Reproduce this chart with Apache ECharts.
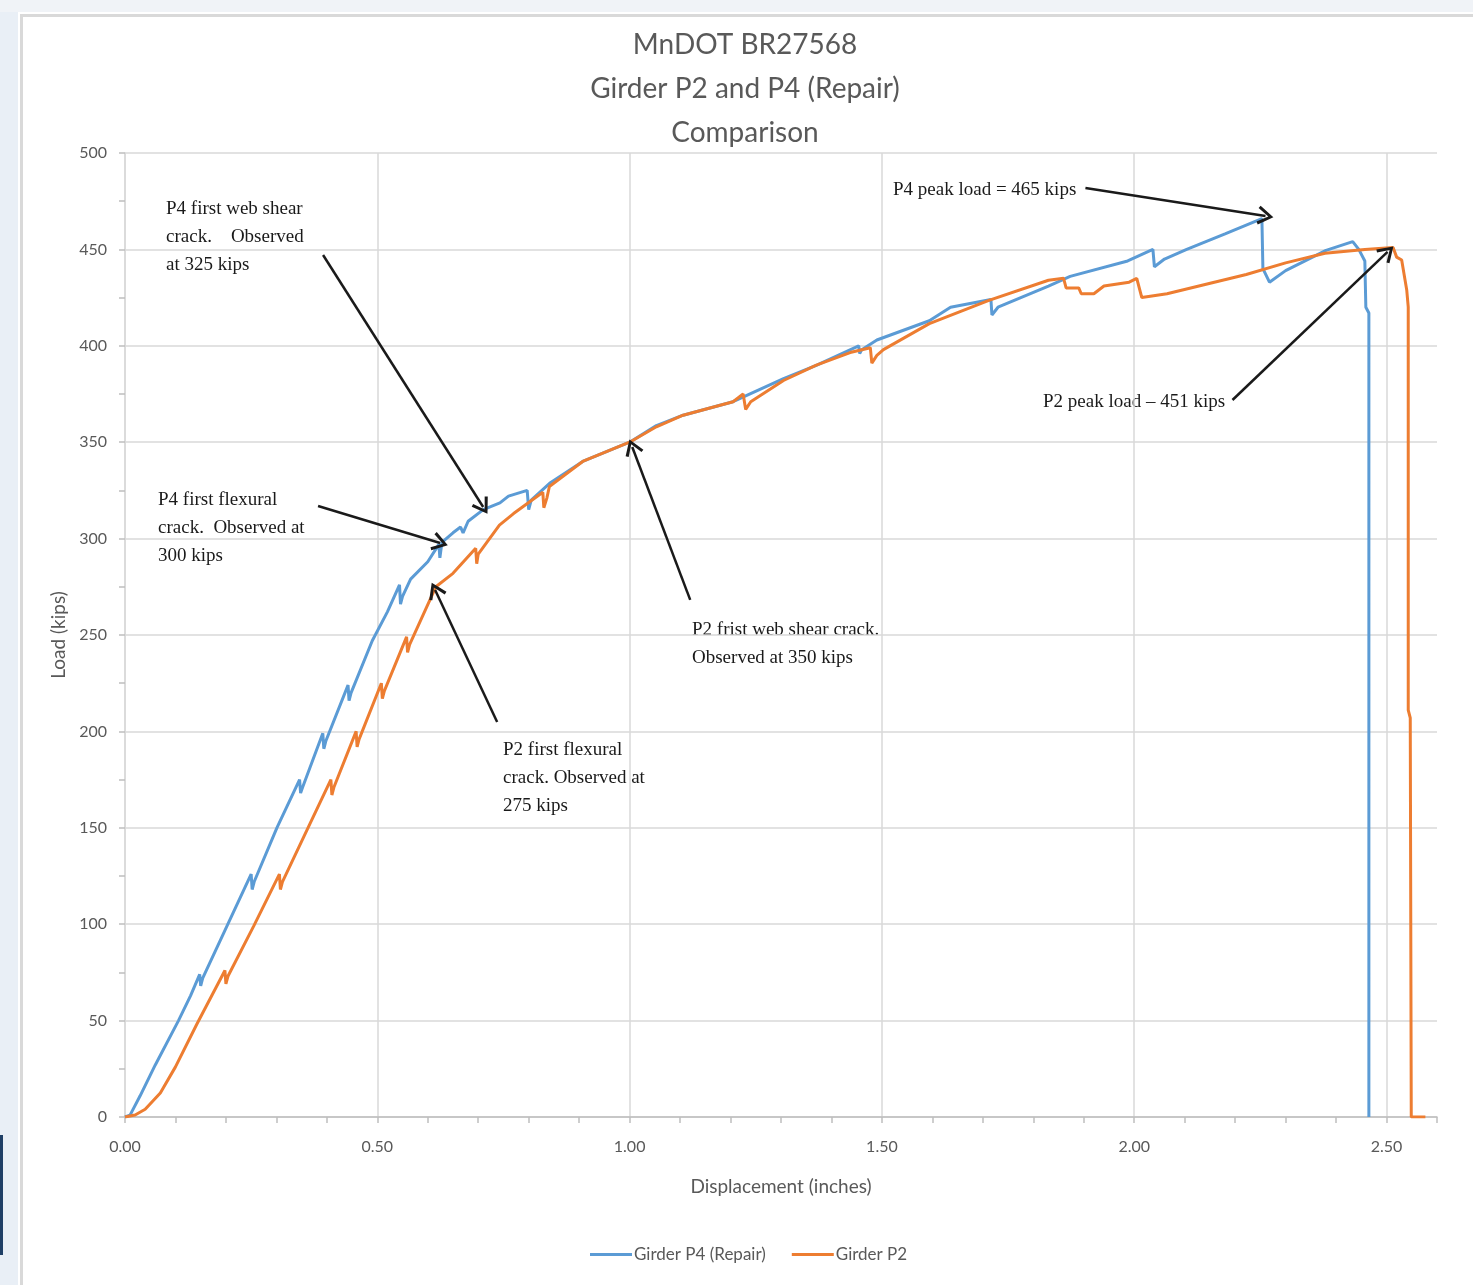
<!DOCTYPE html>
<html>
<head>
<meta charset="utf-8">
<title>MnDOT BR27568 Girder P2 and P4</title>
<script src="https://cdn.jsdelivr.net/npm/echarts@6/dist/echarts.min.js"></script>
<style>
	html, body { margin: 0; padding: 0; background: #fff; }
	#chart { width: 1473px; height: 1285px; }
</style>
</head>
<body>
<div id="chart"></div>
<script>
// Girder P4 (Repair) - displacement (in) / load (kips)
var p4Disp = [0, 0.01, 0.03, 0.06, 0.106, 0.13, 0.148, 0.150, 0.154, 0.202, 0.250, 0.252, 0.256, 0.301,
	0.346, 0.348, 0.352, 0.392, 0.394, 0.398, 0.442, 0.444, 0.448, 0.49, 0.52, 0.544, 0.546, 0.55, 0.566,
	0.60, 0.622, 0.624, 0.628, 0.65, 0.665, 0.67, 0.68, 0.71, 0.743, 0.76, 0.797, 0.80, 0.805, 0.843,
	0.907, 1.0, 1.053, 1.106, 1.205, 1.305, 1.371, 1.454, 1.456, 1.46, 1.49, 1.594, 1.636, 1.716, 1.718,
	1.73, 1.83, 1.873, 1.987, 2.037, 2.04, 2.06, 2.104, 2.18, 2.253, 2.255, 2.268, 2.3, 2.38, 2.433,
	2.445, 2.457, 2.459, 2.465, 2.465];
var p4Load = [0, 1, 11, 27, 50, 63, 74, 68, 72, 99, 126, 118, 122, 150,
	175, 168, 171, 199, 191, 195, 224, 216, 220, 247, 262, 276, 266, 270, 279,
	288, 297, 290, 298, 303, 306, 303, 309, 315, 318.5, 322, 325, 315, 320, 329,
	340, 350, 358.6, 364, 371, 383, 390, 400, 396, 398, 403, 413, 420, 424, 416,
	420, 431, 436, 444, 450, 441, 445, 450, 458, 466, 440, 433, 439, 449.5, 454,
	450, 444, 420, 417, 0];

// Girder P2
var p2Disp = [0, 0.02, 0.04, 0.07, 0.10, 0.142, 0.198, 0.2, 0.204, 0.255, 0.306, 0.308, 0.312, 0.361,
	0.408, 0.41, 0.414, 0.458, 0.46, 0.464, 0.508, 0.51, 0.514, 0.558, 0.56, 0.564, 0.616, 0.65,
	0.695, 0.697, 0.70, 0.742, 0.77, 0.828, 0.83, 0.836, 0.841, 0.907, 1.0, 1.053, 1.106, 1.205,
	1.225, 1.23, 1.24, 1.305, 1.37, 1.437, 1.477, 1.48, 1.49, 1.503, 1.594, 1.712, 1.83, 1.86,
	1.865, 1.89, 1.895, 1.92, 1.94, 1.99, 2.005, 2.015, 2.065, 2.222, 2.3, 2.378, 2.457, 2.513,
	2.52, 2.53, 2.54, 2.543, 2.543, 2.547, 2.549, 2.577];
var p2Load = [0, 1, 4, 12.5, 26, 48, 76, 69, 73, 99, 126, 118, 122, 149,
	175, 167, 171, 200, 192, 196, 225, 217, 221, 249, 241, 245, 275, 282,
	295, 287, 292, 307, 313, 324, 316, 321, 327, 340, 350, 358, 364, 371,
	375, 367, 371, 382, 390, 396.5, 399, 391, 395, 398, 411.5, 423.6, 434, 435,
	430, 430, 427, 427, 431, 433, 435, 425, 427, 437, 443, 448, 450, 451,
	446, 444.5, 429, 420, 211, 207, 0, 0];

// arrows: [fromDisp, fromLoad, toDisp, toLoad]
var arrows = [
	[0.3925, 447.1, 0.7098, 316.4],
	[0.3826, 316.9, 0.6245, 297.7],
	[0.7375, 204.9, 0.6146, 273.3],
	[1.1201, 268.2, 1.0052, 347.5],
	[1.9033, 481.8, 2.2601, 467.3],
	[2.1947, 371.9, 2.5020, 448.7]
];
var notes = [
	'P4 first web shear\ncrack.    Observed\nat 325 kips',
	'P4 first flexural\ncrack.  Observed at\n300 kips',
	'P2 first flexural\ncrack. Observed at\n275 kips',
	'P2 frist web shear crack.\nObserved at 350 kips',
	'P4 peak load = 465 kips',
	'P2 peak load \u2013 451 kips'
];
var notePos = [[166, 195], [158, 486], [503, 736], [692, 616], [893, 176], [1043, 388]];

function pairs(xs, ys) {
	return xs.map(function(x, i) { return [x, ys[i]]; });
}

var chevron = 'path://M5,0 L10,9 L8.6,10 L5,3.2 L1.4,10 L0,9 Z';

var sans = 'Lato';
var serif = '"Liberation Serif", "DejaVu Serif", serif';

var chart = echarts.init(document.getElementById('chart'));

var option = {
	animation: false,
	backgroundColor: '#fff',
	title: {
		text: 'MnDOT BR27568\nGirder P2 and P4 (Repair)\nComparison',
		left: 740,
		textAlign: 'center',
		top: 18,
		textStyle: { fontFamily: sans, fontSize: 28, fontWeight: 'normal', color: '#595959', lineHeight: 44 }
	},
	grid: { left: 125, right: 36, top: 153, bottom: 168 },
	legend: {
		left: 585,
		top: 1241,
		icon: 'rect',
		itemWidth: 42,
		itemHeight: 3,
		itemGap: 26,
		textStyle: { fontFamily: sans, fontSize: 17, color: '#595959', padding: [0, 0, 0, -3] },
		data: ['Girder P4 (Repair)', 'Girder P2']
	},
	xAxis: {
		type: 'value',
		min: 0,
		max: 2.6,
		interval: 0.5,
		name: 'Displacement (inches)',
		nameLocation: 'middle',
		nameGap: 60,
		nameTextStyle: { fontFamily: sans, fontSize: 19, color: '#595959' },
		axisLine: { show: true, lineStyle: { color: '#bfbfbf', width: 1.5 } },
		axisTick: { show: true, length: 6, lineStyle: { color: '#bfbfbf', width: 1.5 } },
		minorTick: { show: true, splitNumber: 5, length: 6, lineStyle: { color: '#bfbfbf', width: 1.5 } },
		axisLabel: {
			margin: 22,
			fontFamily: sans,
			fontSize: 16,
			color: '#595959',
			formatter: function(v) { return Math.abs(v / 0.5 - Math.round(v / 0.5)) < 1e-6 ? v.toFixed(2) : ''; }
		},
		splitLine: { show: true, showMinLine: true, showMaxLine: false, lineStyle: { color: '#d9d9d9', width: 1.5 } }
	},
	yAxis: {
		type: 'value',
		min: 0,
		max: 500,
		interval: 50,
		name: 'Load (kips)',
		nameLocation: 'middle',
		nameGap: 55,
		nameTextStyle: { fontFamily: sans, fontSize: 19, color: '#595959' },
		axisLine: { show: true, lineStyle: { color: '#d9d9d9', width: 1.5 } },
		axisTick: { show: true, length: 6, lineStyle: { color: '#bfbfbf', width: 1.5 } },
		minorTick: { show: true, splitNumber: 2, length: 6, lineStyle: { color: '#bfbfbf', width: 1.5 } },
		axisLabel: { margin: 18, fontFamily: sans, fontSize: 16, color: '#595959' },
		splitLine: { show: true, lineStyle: { color: '#d9d9d9', width: 1.5 } }
	},
	series: [
		{
			name: 'Girder P4 (Repair)',
			type: 'line',
			symbol: 'none',
			color: '#5B9BD5',
			lineStyle: { width: 3, color: '#5B9BD5' },
			data: pairs(p4Disp, p4Load),
			z: 3
		},
		{
			name: 'Girder P2',
			type: 'line',
			symbol: 'none',
			color: '#ED7D31',
			lineStyle: { width: 3, color: '#ED7D31' },
			data: pairs(p2Disp, p2Load),
			z: 4,
			markLine: {
				silent: true,
				symbol: ['none', chevron],
				symbolSize: [19, 16],
				label: { show: false },
				lineStyle: { color: '#1a1a1a', width: 2.5, type: 'solid' },
				data: arrows.map(function(a) {
					return [{ coord: [a[0], a[1]] }, { coord: [a[2], a[3]] }];
				})
			}
		}
	],
	graphic: [
		{ type: 'rect', left: 0, top: 0, shape: { width: 18, height: 1285 }, style: { fill: '#e9eff6' }, silent: true },
		{ type: 'rect', left: 0, top: 0, shape: { width: 1473, height: 12 }, style: { fill: '#f0f3f7' }, silent: true },
		{ type: 'rect', left: 0, top: 1135, shape: { width: 3, height: 120 }, style: { fill: '#1f3f66' }, silent: true },
		{
			type: 'rect', left: 19, top: 13,
			shape: { width: 1470, height: 1290 },
			style: { fill: 'none', stroke: '#d9d9d9', lineWidth: 3 },
			silent: true
		}
	].concat(notes.map(function(t, i) {
		return {
			type: 'text',
			left: notePos[i][0],
			top: notePos[i][1],
			silent: true,
			style: { text: t, font: '19px ' + serif, fill: '#1a1a1a', lineHeight: 28 }
		};
	}))
};

chart.setOption(option);
</script>
</body>
</html>
